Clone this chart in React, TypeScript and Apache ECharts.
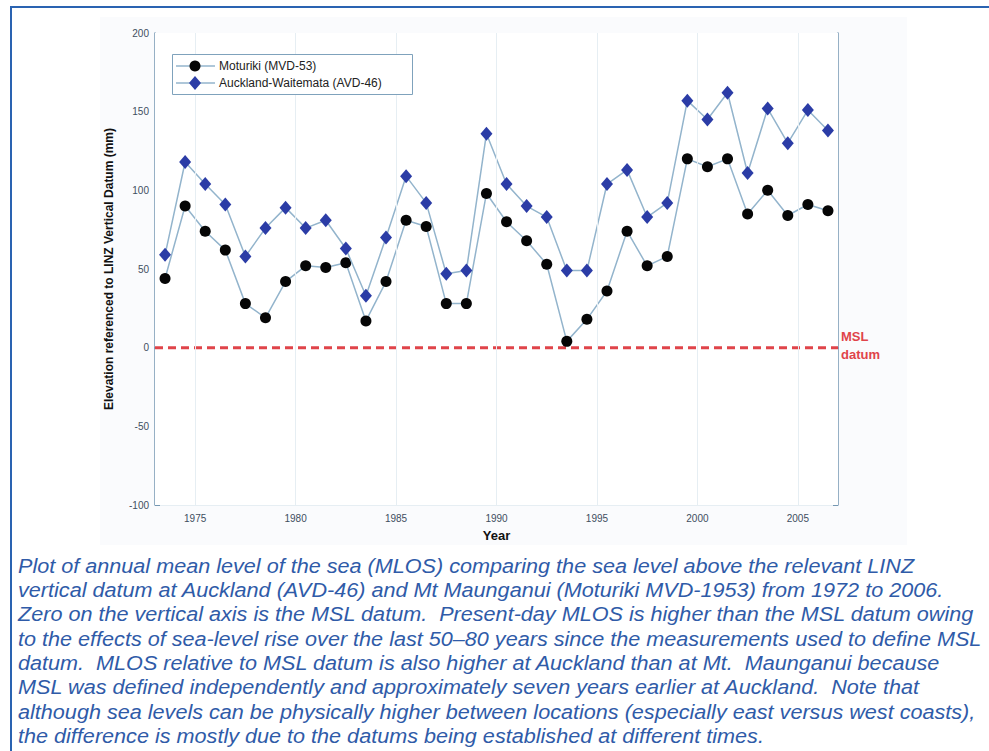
import React, { useEffect, useRef } from "react";
import * as echarts from "echarts";

const years = [
  1973, 1974, 1975, 1976, 1977, 1978, 1979, 1980, 1981, 1982, 1983, 1984,
  1985, 1986, 1987, 1988, 1989, 1990, 1991, 1992, 1993, 1994, 1995, 1996,
  1997, 1998, 1999, 2000, 2001, 2002, 2003, 2004, 2005, 2006,
];
const moturiki = [
  44, 90, 74, 62, 28, 19, 42, 52, 51, 54, 17, 42, 81, 77, 28, 28, 98, 80,
  68, 53, 4, 18, 36, 74, 52, 58, 120, 115, 120, 85, 100, 84, 91, 87,
];
const auckland = [
  59, 118, 104, 91, 58, 76, 89, 76, 81, 63, 33, 70, 109, 92, 47, 49, 136, 104,
  90, 83, 49, 49, 104, 113, 83, 92, 157, 145, 162, 111, 152, 130, 151, 138,
];
const seriesNames = ["Moturiki (MVD-53)", "Auckland-Waitemata (AVD-46)"];
const xTicks = [1975, 1980, 1985, 1990, 1995, 2000, 2005];
const datumLine = [
  [1973, 0],
  [2007, 0],
];
const captionLines = [
  "Plot of annual mean level of the sea (MLOS) comparing the sea level above the relevant LINZ",
  "vertical datum at Auckland (AVD-46) and Mt Maunganui (Moturiki MVD-1953) from 1972 to 2006.",
  "Zero on the vertical axis is the MSL datum.  Present-day MLOS is higher than the MSL datum owing",
  "to the effects of sea-level rise over the last 50\u201380 years since the measurements used to define MSL",
  "datum.  MLOS relative to MSL datum is also higher at Auckland than at Mt.  Maunganui because",
  "MSL was defined independently and approximately seven years earlier at Auckland.  Note that",
  "although sea levels can be physically higher between locations (especially east versus west coasts),",
  "the difference is mostly due to the datums being established at different times.",
];

export default function App() {
  const ref = useRef<HTMLDivElement>(null);
  useEffect(() => {
    if (!ref.current) return;
    const chart = echarts.init(ref.current, null, { renderer: "svg" });
    const axisColor = "#7497B2";
    const labelColor = "#3E4E60";
    const gridColor = "#E6EEF3";
    const lineColor = "#93B4CC";
    const black = "#060606";
    const blue = "#2B3CA6";
    const font = "Liberation Sans, Arial, sans-serif";
    const LZ = 100;

    const caption = captionLines.map((t, i) => ({
      type: "text",
      x: 18,
      y: 566 + i * 24.3,
      style: {
        text: t,
        fill: "#2F5BA8",
        font: "italic 21px 'Liberation Sans', Arial, sans-serif",
        textVerticalAlign: "middle",
      },
      scaleX: 1.03,
    }));

    const legendEls = [
      {
        type: "rect",
        z: LZ,
        shape: { x: 172.5, y: 54.5, width: 240, height: 40 },
        style: { fill: "#ffffff", stroke: "#7FA2BC", lineWidth: 1 },
      },
      {
        type: "line",
        z: LZ + 1,
        shape: { x1: 176, y1: 66, x2: 215, y2: 66 },
        style: { stroke: lineColor, lineWidth: 1.5 },
      },
      {
        type: "circle",
        z: LZ + 2,
        shape: { cx: 195, cy: 66, r: 5.5 },
        style: { fill: black },
      },
      {
        type: "text",
        z: LZ + 2,
        x: 219,
        y: 66,
        style: {
          text: seriesNames[0],
          fill: "#222",
          font: "12px 'Liberation Sans', Arial, sans-serif",
          textVerticalAlign: "middle",
        },
      },
      {
        type: "line",
        z: LZ + 1,
        shape: { x1: 176, y1: 83, x2: 215, y2: 83 },
        style: { stroke: lineColor, lineWidth: 1.5 },
      },
      {
        type: "polygon",
        z: LZ + 2,
        shape: {
          points: [
            [195, 76],
            [201, 83],
            [195, 90],
            [189, 83],
          ],
        },
        style: { fill: blue },
      },
      {
        type: "text",
        z: LZ + 2,
        x: 219,
        y: 83,
        style: {
          text: seriesNames[1],
          fill: "#222",
          font: "12px 'Liberation Sans', Arial, sans-serif",
          textVerticalAlign: "middle",
        },
      },
    ];

    chart.setOption({
      animation: false,
      backgroundColor: "#ffffff",
      textStyle: { fontFamily: font },
      grid: {
        left: 155,
        right: 151,
        top: 33,
        bottom: 246,
        show: true,
        backgroundColor: "#ffffff",
        borderWidth: 0,
        z: 1,
      },
      xAxis: [
        {
          type: "value",
          min: 1973,
          max: 2007,
          name: "Year",
          nameLocation: "middle",
          nameGap: 24,
          nameTextStyle: { fontSize: 13, fontWeight: "bold", color: "#111" },
          axisLine: { show: true, lineStyle: { color: axisColor, width: 1.5 } },
          axisTick: {
            show: true,
            inside: true,
            length: 5,
            customValues: xTicks,
            lineStyle: { color: axisColor },
          },
          axisLabel: {
            customValues: xTicks,
            formatter: (v: number) => String(v),
            fontSize: 10,
            color: labelColor,
            margin: 8,
          },
          splitLine: { show: false },
        },
        {
          type: "value",
          position: "top",
          min: 1973,
          max: 2007,
          axisLine: { show: true, lineStyle: { color: axisColor, width: 1.5 } },
          axisTick: {
            show: true,
            inside: true,
            length: 5,
            customValues: xTicks,
            lineStyle: { color: axisColor },
          },
          axisLabel: { show: false },
          splitLine: { show: false },
        },
      ],
      yAxis: [
        {
          type: "value",
          min: -100,
          max: 200,
          interval: 50,
          name: "Elevation referenced to LINZ Vertical Datum (mm)",
          nameLocation: "middle",
          nameGap: 40,
          nameTextStyle: { fontSize: 12, fontWeight: "bold", color: "#111" },
          axisLine: { show: true, lineStyle: { color: axisColor, width: 1.5 } },
          axisTick: { show: true, inside: true, length: 5, lineStyle: { color: axisColor } },
          axisLabel: { fontSize: 10, color: labelColor, margin: 6 },
          splitLine: { show: true, lineStyle: { color: gridColor, width: 1 } },
        },
        {
          type: "value",
          position: "right",
          min: -100,
          max: 200,
          interval: 50,
          axisLine: { show: true, lineStyle: { color: axisColor, width: 1.5 } },
          axisTick: { show: true, inside: true, length: 5, lineStyle: { color: axisColor } },
          axisLabel: { show: false },
          splitLine: { show: false },
        },
      ],
      series: [
        {
          name: "grid-x",
          type: "line",
          data: [],
          silent: true,
          markLine: {
            silent: true,
            symbol: "none",
            label: { show: false },
            lineStyle: { color: gridColor, type: "solid", width: 1 },
            data: xTicks.map((v) => ({ xAxis: v })),
          },
          z: 1,
        },
        {
          name: "MSL datum",
          type: "line",
          data: datumLine,
          symbol: "none",
          silent: true,
          lineStyle: { color: "#E0444A", width: 3, type: [8, 5] },
          z: 2,
        },
        {
          name: seriesNames[0],
          type: "line",
          data: years.map((y, i) => [y + 0.5, moturiki[i]]),
          symbol: "circle",
          symbolSize: 11,
          lineStyle: { color: lineColor, width: 1.5 },
          itemStyle: { color: black },
          z: 3,
        },
        {
          name: seriesNames[1],
          type: "line",
          data: years.map((y, i) => [y + 0.5, auckland[i]]),
          symbol: "diamond",
          symbolSize: [12, 14],
          lineStyle: { color: lineColor, width: 1.5 },
          itemStyle: { color: blue },
          z: 4,
        },
      ],
      graphic: [
        {
          type: "rect",
          shape: { x: 100, y: 17, width: 807, height: 528 },
          style: { fill: "#FAFBFD" },
          z: -10,
          silent: true,
        },
        {
          type: "rect",
          shape: { x: 10, y: 6, width: 979, height: 2 },
          style: { fill: "#2A63B1" },
          silent: true,
        },
        {
          type: "rect",
          shape: { x: 10, y: 6, width: 2, height: 745 },
          style: { fill: "#2A63B1" },
          silent: true,
        },
        ...legendEls,
        {
          type: "text",
          x: 841,
          y: 336,
          style: {
            text: "MSL",
            fill: "#E0444A",
            font: "bold 13px 'Liberation Sans', Arial, sans-serif",
            textVerticalAlign: "middle",
          },
        },
        {
          type: "text",
          x: 841,
          y: 354,
          style: {
            text: "datum",
            fill: "#E0444A",
            font: "bold 13px 'Liberation Sans', Arial, sans-serif",
            textVerticalAlign: "middle",
          },
        },
        ...caption,
      ],
    });
    return () => chart.dispose();
  }, []);
  return (
    <div
      ref={ref}
      style={{ position: "fixed", left: 0, top: 0, width: 989, height: 751 }}
    />
  );
}
